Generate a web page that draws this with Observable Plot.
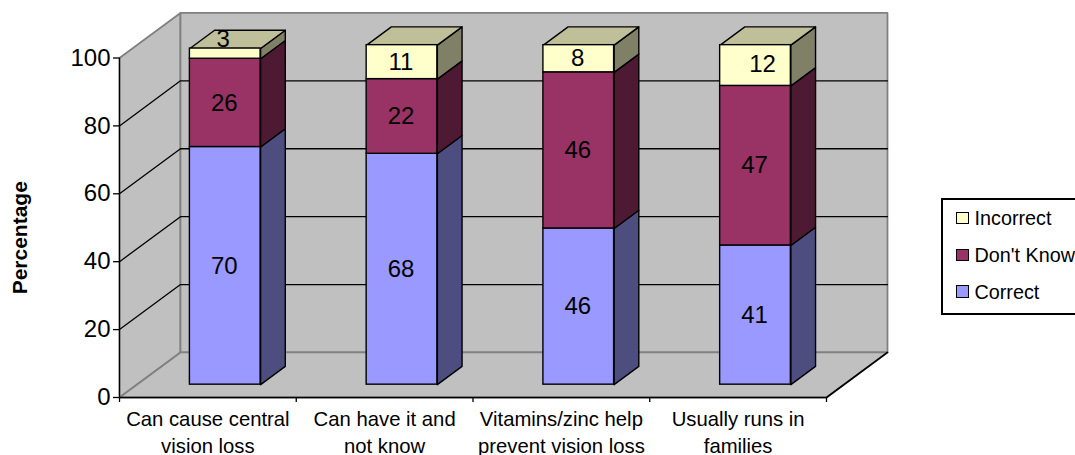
<!DOCTYPE html>
<html>
<head>
<meta charset="utf-8">
<script src="https://cdn.jsdelivr.net/npm/d3@7"></script>
<script src="https://cdn.jsdelivr.net/npm/@observablehq/plot@0.6"></script>
<style>
html,body{margin:0;padding:0;background:#fff;overflow:hidden}
#wrap{position:relative;width:1075px;height:455px;overflow:hidden;font-family:"Liberation Sans",Arial,sans-serif}
#legend{position:absolute;left:941px;top:198px;width:160px;height:113px;border:2px solid #000;background:#fff;box-sizing:content-box}
#legend .row{position:absolute;left:13px;display:flex;align-items:center;font-size:19.8px;color:#000;white-space:nowrap;line-height:20px}
#legend .sw{display:inline-block;width:10.5px;height:10.5px;border:1.5px solid #000;margin-right:6px}
</style>
</head>
<body>
<div id="wrap"></div>
<script>
const categories = ["Can cause central\nvision loss", "Can have it and\nnot know", "Vitamins/zinc help\nprevent vision loss", "Usually runs in\nfamilies"];
const seriesNames = ["Correct", "Don't Know", "Incorrect"];
const correct = [70, 68, 46, 41];
const dontKnow = [26, 22, 46, 47];
const incorrect = [3, 11, 8, 12];
const yTicks = [0, 20, 40, 60, 80, 100];
const frontColors = ["#9999FF", "#993366", "#FFFFCC"];
const sideColors = ["#4D4D80", "#4D1933", "#808066"];
const topColor = "#BFBF99";

// oblique projection: depth z in 0..1 shifts a point along x (category units) and y (percent units)
const depthX = 0.345, depthY = 13.27;
const barWidth = 0.4, zFront = 0.285, zBack = 0.69;
const px = (x, z) => x + z * depthX;
const py = (y, z) => y + z * depthY;

const series = [correct, dontKnow, incorrect];
const segments = [];
categories.forEach((c, i) => {
  let base = 0;
  series.forEach((vals, s) => {
    const top = Math.min(100, base + vals[i]);
    segments.push({i, s, y0: base, y1: top, value: vals[i], left: i + (1 - barWidth) / 2, last: s === 2});
    base = top;
  });
});

const poly = (id, fill, pts) => pts.map(([x, z, y]) => ({id, fill, x: px(x, z), y: py(y, z)}));
const sides = segments.flatMap((d, k) => {
  const r = d.left + barWidth;
  return poly("side" + k, sideColors[d.s], [[r, zFront, d.y0], [r, zBack, d.y0], [r, zBack, d.y1], [r, zFront, d.y1], [r, zFront, d.y0]]);
});
const tops = segments.filter(d => d.last).flatMap((d, k) => {
  const l = d.left, r = d.left + barWidth;
  return poly("top" + k, topColor, [[l, zFront, d.y1], [r, zFront, d.y1], [r, zBack, d.y1], [l, zBack, d.y1], [l, zFront, d.y1]]);
});
const walls = [
  ...poly("left", "#C0C0C0", [[0, 0, 0], [0, 1, 0], [0, 1, 100], [0, 0, 100], [0, 0, 0]]),
  ...poly("back", "#C0C0C0", [[0, 1, 0], [4, 1, 0], [4, 1, 100], [0, 1, 100], [0, 1, 0]])
];
const floor = poly("floor", "#C0C0C0", [[0, 0, 0], [4, 0, 0], [4, 1, 0], [0, 1, 0], [0, 0, 0]]);
const gridLines = yTicks.filter(t => t > 0 && t < 100).flatMap(t =>
  poly("g" + t, "none", [[0, 0, t], [0, 1, t], [4, 1, t]]));
const floorEdges = poly("fe", "none", [[0, 0, 0], [4, 0, 0], [4, 1, 0]]);
const labelOf = d => String(d.value);
const labelX = d => px(d.left + barWidth / 2, zFront);
const labelY = d => py((d.y0 + d.y1) / 2, zFront);
const plain = d => !(d.s === 2 && (d.i === 0 || d.i === 3));

const chart = Plot.plot({
  width: 1075, height: 455,
  marginLeft: 119, marginRight: 249, marginTop: 57.5, marginBottom: 58,
  style: {background: "transparent", fontFamily: '"Liberation Sans",Arial,sans-serif', overflow: "visible"},
  x: {domain: [0, 4], axis: null},
  y: {domain: [0, 100], axis: null},
  marks: [
    Plot.line(walls, {x: "x", y: "y", z: "id", fill: "fill", stroke: "#808080", strokeWidth: 1.8}),
    Plot.line(floor, {x: "x", y: "y", z: "id", fill: "fill", stroke: "#808080", strokeWidth: 1.8}),
    Plot.line(gridLines, {x: "x", y: "y", z: "id", stroke: "#000", strokeWidth: 1.3}),
    Plot.line(floorEdges, {x: "x", y: "y", z: "id", stroke: "#000", strokeWidth: 1.6}),
    Plot.ruleX([0], {y1: 0, y2: 100, stroke: "#000", strokeWidth: 1.3}),
    Plot.axisY({ticks: yTicks, tickSize: 6, tickPadding: 3, fontSize: 24, label: null, stroke: "#000", color: "#000", strokeWidth: 1.3}),
    Plot.axisX({ticks: [0, 1, 2, 3, 4], tickSize: 5, tickFormat: () => "", label: null, strokeWidth: 1.3}),
    Plot.text(categories, {x: (d, i) => i + 0.5, y: () => 0, text: d => d, dy: 10, lineAnchor: "top", lineHeight: 1.31, fontSize: 20.3, fill: "#000"}),
    Plot.text(["Percentage"], {frameAnchor: "left", textAnchor: "middle", dx: -99, dy: 10, rotate: -90, fontSize: 21, fontWeight: "bold", fill: "#000"}),
    Plot.line(sides, {x: "x", y: "y", z: "id", fill: "fill", stroke: "#000", strokeWidth: 1.4}),
    Plot.line(tops, {x: "x", y: "y", z: "id", fill: "fill", stroke: "#000", strokeWidth: 1.4}),
    Plot.rect(segments, {
      x1: d => px(d.left, zFront), x2: d => px(d.left + barWidth, zFront),
      y1: d => py(d.y0, zFront), y2: d => py(d.y1, zFront),
      fill: d => frontColors[d.s], stroke: "#000", strokeWidth: 1.4, inset: 0
    }),
    Plot.text(segments.filter(plain), {x: labelX, y: labelY, text: labelOf, dx: -1, fontSize: 24, fill: "#000"}),
    Plot.text(segments.filter(d => d.s === 2 && d.i === 0), {x: labelX, y: labelY, text: labelOf, dx: -2, dy: -14, fontSize: 24, fill: "#000"}),
    Plot.text(segments.filter(d => d.s === 2 && d.i === 3), {x: labelX, y: labelY, text: labelOf, dx: 7, dy: -1, fontSize: 24, fill: "#000"})
  ]
});
const wrap = document.getElementById("wrap");
wrap.appendChild(chart);

const legend = document.createElement("div");
legend.id = "legend";
[...seriesNames].reverse().forEach((name, k) => {
  const row = document.createElement("div");
  row.className = "row";
  row.style.top = (8 + k * 36.8) + "px";
  const sw = document.createElement("span");
  sw.className = "sw";
  sw.style.background = frontColors[seriesNames.indexOf(name)];
  row.appendChild(sw);
  row.appendChild(document.createTextNode(name));
  legend.appendChild(row);
});
wrap.appendChild(legend);
</script>
</body>
</html>
